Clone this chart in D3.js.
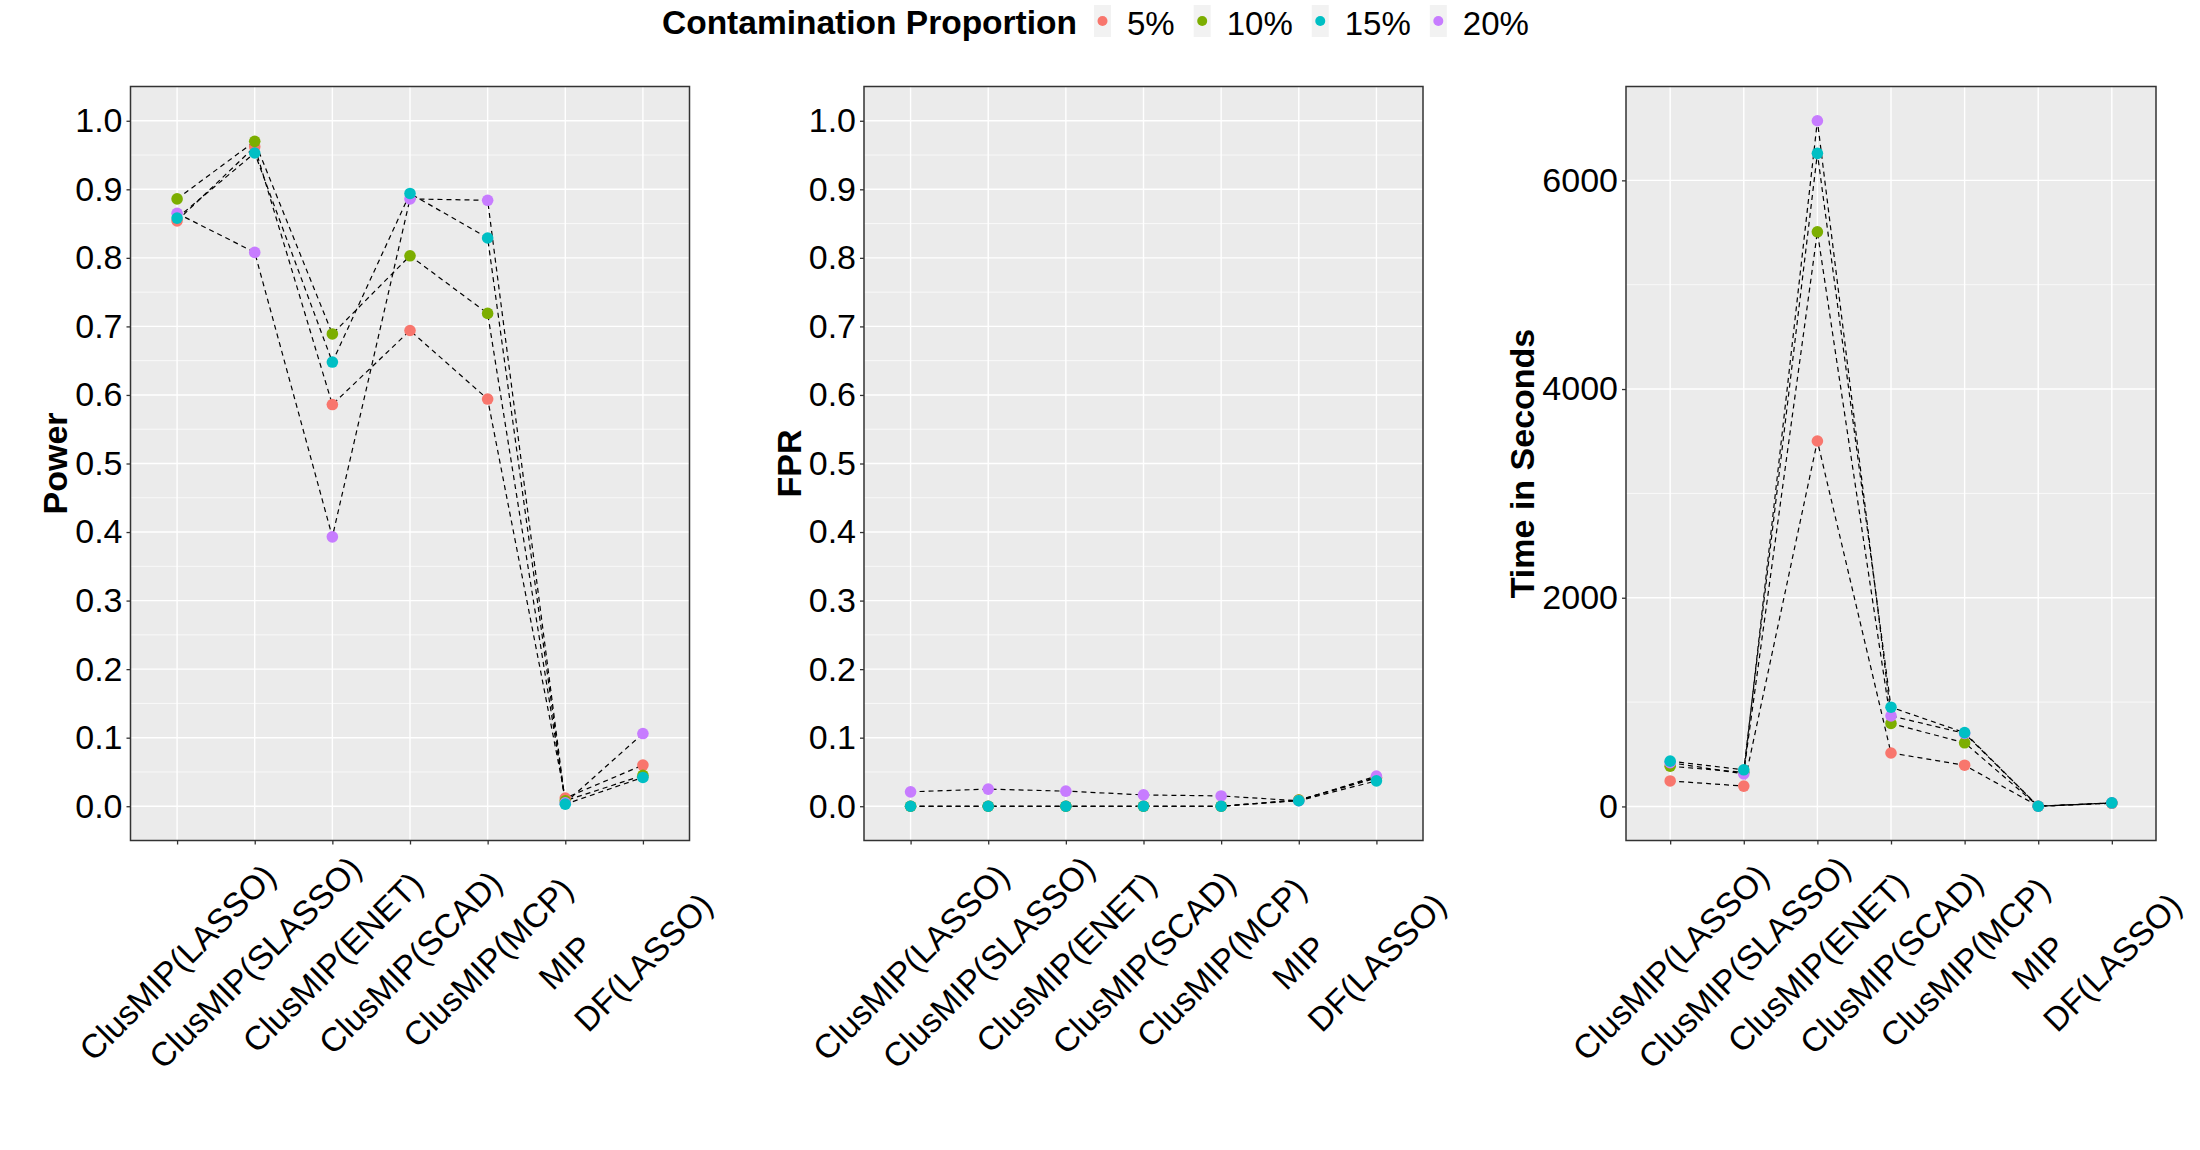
<!DOCTYPE html>
<html>
<head>
<meta charset="utf-8">
<script src="https://cdn.jsdelivr.net/npm/d3@7"></script>
<style>
  body { margin: 0; background: #fff; }
  svg { display: block; font-family: 'Liberation Sans', Arial, Helvetica, sans-serif; }
</style>
</head>
<body>
<svg id="chart" width="2200" height="1150"></svg>
<script>
const methods = ['ClusMIP(LASSO)', 'ClusMIP(SLASSO)', 'ClusMIP(ENET)', 'ClusMIP(SCAD)', 'ClusMIP(MCP)', 'MIP', 'DF(LASSO)'];
const levels = ['5%', '10%', '15%', '20%'];
const levelColors = ['#F8766D', '#7CAE00', '#00BFC4', '#C77CFF'];
// points drawn in this order (15% ends up on top in the original)
const drawOrder = ['5%', '10%', '20%', '15%'];

const power5  = [0.854, 0.962, 0.586, 0.694, 0.594, 0.012, 0.060];
const power10 = [0.886, 0.970, 0.689, 0.803, 0.719, 0.008, 0.045];
const power15 = [0.858, 0.953, 0.648, 0.894, 0.829, 0.003, 0.042];
const power20 = [0.865, 0.808, 0.393, 0.886, 0.884, 0.005, 0.106];

const fpr5  = [0.000, 0.000, 0.000, 0.000, 0.000, 0.009, 0.042];
const fpr10 = [0.000, 0.000, 0.000, 0.000, 0.000, 0.009, 0.041];
const fpr15 = [0.000, 0.000, 0.000, 0.000, 0.000, 0.008, 0.037];
const fpr20 = [0.021, 0.025, 0.022, 0.0165, 0.015, 0.008, 0.044];

const time5  = [244, 195, 3502, 512, 395, 2, 30];
const time10 = [385, 327, 5507, 795, 610, 2, 33];
const time15 = [434, 351, 6259, 951, 707, 2, 35];
const time20 = [420, 312, 6571, 868, 700, 2, 34];

const unitTicks = d3.range(0, 11).map(d => d / 10);

const panels = [
  { title: 'Power', series: [power5, power10, power15, power20], left: 130.5, right: 689.5,
    domain: [-0.05, 1.05], ticks: unitTicks, fmt: d3.format('.1f'), titleX: 55 },
  { title: 'FPR', series: [fpr5, fpr10, fpr15, fpr20], left: 864, right: 1423,
    domain: [-0.05, 1.05], ticks: unitTicks, fmt: d3.format('.1f'), titleX: 789 },
  { title: 'Time in Seconds', series: [time5, time10, time15, time20], left: 1626, right: 2156,
    domain: null, ticks: null, fmt: d3.format('d'), titleX: 1522 }
];

const panelTop = 86.5, panelBottom = 840.5;
const svg = d3.select('#chart');

panels.forEach(p => {
  let domain = p.domain;
  if (!domain) {
    const all = p.series.flat();
    const lo = d3.min(all), hi = d3.max(all);
    const pad = (hi - lo) * 0.05;
    domain = [lo - pad, hi + pad];
  }
  const y = d3.scaleLinear().domain(domain).range([panelBottom, panelTop]);
  const x = d3.scalePoint().domain(methods).range([p.left, p.right]).padding(0.6);
  const major = p.ticks || y.ticks(4);
  const step = major[1] - major[0];
  const minor = major.map(d => d - step / 2).concat([major[major.length - 1] + step / 2])
    .filter(d => d > domain[0] && d < domain[1]);

  const g = svg.append('g').attr('class', 'panel');

  g.append('rect')
    .attr('x', p.left).attr('y', panelTop)
    .attr('width', p.right - p.left).attr('height', panelBottom - panelTop)
    .attr('fill', '#EBEBEB');

  g.selectAll('.grid-minor')
    .data(minor)
    .enter().append('line')
    .attr('class', 'grid-minor')
    .attr('x1', p.left).attr('x2', p.right)
    .attr('y1', d => y(d)).attr('y2', d => y(d))
    .attr('stroke', '#fff').attr('stroke-width', 0.7);

  g.selectAll('.grid-major')
    .data(major)
    .enter().append('line')
    .attr('class', 'grid-major')
    .attr('x1', p.left).attr('x2', p.right)
    .attr('y1', d => y(d)).attr('y2', d => y(d))
    .attr('stroke', '#fff').attr('stroke-width', 1.4);

  g.selectAll('.grid-x')
    .data(methods)
    .enter().append('line')
    .attr('class', 'grid-x')
    .attr('x1', d => x(d)).attr('x2', d => x(d))
    .attr('y1', panelTop).attr('y2', panelBottom)
    .attr('stroke', '#fff').attr('stroke-width', 1.4);

  // dashed connecting lines, one per contamination level
  const line = d3.line()
    .x((d, i) => x(methods[i]))
    .y(d => y(d));

  g.selectAll('.series-line')
    .data(p.series)
    .enter().append('path')
    .attr('class', 'series-line')
    .attr('d', line)
    .attr('fill', 'none')
    .attr('stroke', '#000')
    .attr('stroke-width', 1.2)
    .attr('stroke-dasharray', '5,4');

  drawOrder.forEach(lvl => {
    const li = levels.indexOf(lvl);
    g.selectAll('.pt-' + li)
      .data(p.series[li])
      .enter().append('circle')
      .attr('class', 'pt-' + li)
      .attr('cx', (d, i) => x(methods[i]))
      .attr('cy', d => y(d))
      .attr('r', 5.8)
      .attr('fill', levelColors[li]);
  });

  g.append('rect')
    .attr('x', p.left).attr('y', panelTop)
    .attr('width', p.right - p.left).attr('height', panelBottom - panelTop)
    .attr('fill', 'none')
    .attr('stroke', '#333').attr('stroke-width', 1.5);

  const yAxis = g.append('g')
    .attr('transform', 'translate(' + p.left + ',0)')
    .call(d3.axisLeft(y).tickValues(major).tickFormat(p.fmt).tickSize(4).tickPadding(4));
  yAxis.select('.domain').remove();
  yAxis.selectAll('line').attr('stroke', '#333').attr('stroke-width', 1.3);
  yAxis.selectAll('text')
    .attr('font-size', 34)
    .attr('fill', '#000')
    .attr('font-family', null);

  const xAxis = g.append('g')
    .attr('transform', 'translate(0,' + panelBottom + ')')
    .call(d3.axisBottom(x).tickSize(4));
  xAxis.select('.domain').remove();
  xAxis.selectAll('line').attr('stroke', '#333').attr('stroke-width', 1.3);
  xAxis.selectAll('text')
    .attr('y', 0)
    .attr('dy', null)
    .attr('text-anchor', 'middle')
    .attr('dominant-baseline', 'central')
    .attr('transform', 'translate(0,122) rotate(-45)')
    .attr('font-size', 33.5)
    .attr('fill', '#000')
    .attr('font-family', null);

  g.append('text')
    .attr('transform', 'translate(' + p.titleX + ',' + ((panelTop + panelBottom) / 2) + ') rotate(-90)')
    .attr('text-anchor', 'middle')
    .attr('dominant-baseline', 'central')
    .attr('font-size', 34)
    .attr('font-weight', 'bold')
    .text(p.title);
});

// legend across the top
const legend = svg.append('g').attr('class', 'legend');
const legendTitle = legend.append('text')
  .attr('x', 662).attr('y', 33.5)
  .attr('font-size', 33.5)
  .attr('font-weight', 'bold')
  .text('Contamination Proportion');

let lx = 662 + legendTitle.node().getComputedTextLength() + 17;
levels.forEach((lvl, i) => {
  legend.append('rect')
    .attr('x', lx).attr('y', 5)
    .attr('width', 17).attr('height', 32)
    .attr('fill', '#F2F2F2');
  legend.append('circle')
    .attr('cx', lx + 8.5).attr('cy', 21)
    .attr('r', 5)
    .attr('fill', levelColors[i]);
  const t = legend.append('text')
    .attr('x', lx + 33).attr('y', 34.5)
    .attr('font-size', 33)
    .text(lvl);
  lx += 33 + t.node().getComputedTextLength() + 19;
});
</script>
</body>
</html>
